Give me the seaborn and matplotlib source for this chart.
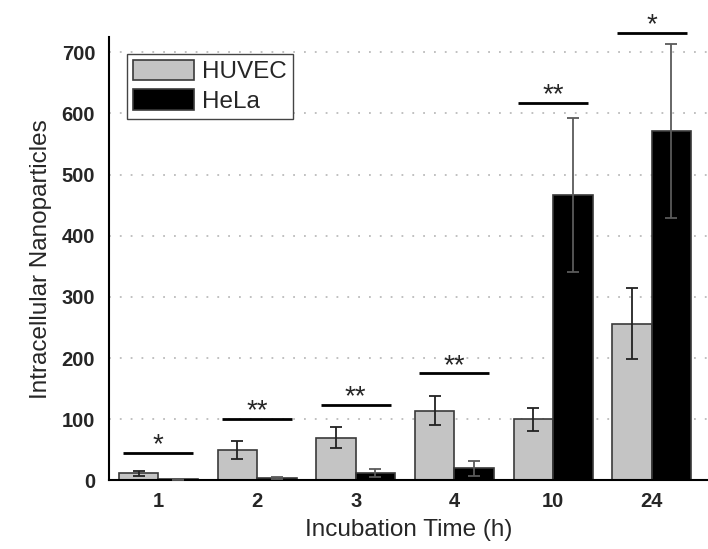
import pandas as pd
import matplotlib
matplotlib.use("Agg")
import matplotlib.pyplot as plt
import seaborn as sns

# Data
times = ['1', '2', '3', '4', '10', '24']
huvec_mean = [12, 50, 70, 114, 100, 256]
huvec_err = [4, 15, 17, 24, 19, 58]
hela_mean = [2, 4, 12, 20, 466, 571]
hela_err = [1, 1, 6, 12, 126, 142]
sig_labels = ['*', '**', '**', '**', '**', '*']
sig_heights = [45, 100, 123, 175, 617, 732]

df = pd.DataFrame({
    'Time': times * 2,
    'Cell': ['HUVEC'] * len(times) + ['HeLa'] * len(times),
    'Value': huvec_mean + hela_mean,
})

sns.set_style('white')
plt.rcParams['font.family'] = ['Liberation Sans', 'DejaVu Sans']

fig = plt.figure(figsize=(7.08, 5.49), dpi=100)
ax = fig.add_axes([0.154, 0.1248, 0.846, 0.808])

sns.barplot(data=df, x='Time', y='Value', hue='Cell', order=times,
            hue_order=['HUVEC', 'HeLa'],
            palette={'HUVEC': '#c4c4c4', 'HeLa': '#000000'},
            edgecolor='#3a3a3a', linewidth=1.2, width=0.8,
            errorbar=None, ax=ax)

# Error bars at the bar centres
for cont, errs, col in zip(ax.containers, [huvec_err, hela_err], ['#222222', '#5a5a5a']):
    xs = [p.get_x() + p.get_width() / 2 for p in cont.patches]
    ys = [p.get_height() for p in cont.patches]
    ax.errorbar(xs, ys, yerr=errs, fmt='none', ecolor=col, elinewidth=1.3,
                capsize=4, capthick=1.3, zorder=5)

# Significance markers
for i, (lab, h) in enumerate(zip(sig_labels, sig_heights)):
    ax.plot([i - 0.355, i + 0.355], [h, h], color='black', lw=2,
            clip_on=False, solid_capstyle='butt')
    ax.annotate(lab, (i, h), xytext=(0, 0.5), textcoords='offset points',
                ha='center', va='baseline', fontsize=20, annotation_clip=False)

ax.set_xlim(-0.5, 5.57)
ax.set_ylim(0, 725)
ax.set_yticks(range(0, 701, 100))
ax.yaxis.grid(True, color='#bbbbbb', linestyle=(0, (1, 5)), lw=1.3)
ax.set_axisbelow(True)

ax.set_xticks(range(len(times)))
ax.set_xticklabels(times, fontweight='bold', fontsize=14.5)
ax.set_xticks([i - 0.5 for i in range(len(times) + 1)], minor=True)
ax.tick_params(axis='x', which='major', length=0, pad=8)
ax.tick_params(axis='x', which='minor', length=5, width=1.5, direction='out',
               color='black')
ax.tick_params(axis='y', length=7, width=1.5, direction='out', pad=3,
               color='black', labelsize=14.5)
for t in ax.get_yticklabels():
    t.set_fontweight('bold')

for s in ['top', 'right']:
    ax.spines[s].set_visible(False)
for s in ['left', 'bottom']:
    ax.spines[s].set_color('black')
    ax.spines[s].set_linewidth(1.5)

ax.set_xlabel('Incubation Time (h)', fontsize=17.5, labelpad=6)
ax.set_ylabel('Intracellular Nanoparticles', fontsize=17.5, labelpad=7)

handles, labels = ax.get_legend_handles_labels()
leg = ax.legend(handles, labels, loc='upper left', bbox_to_anchor=(0.03, 0.962),
                borderaxespad=0, fontsize=17.5, frameon=True, fancybox=False,
                edgecolor='#444444', framealpha=1, handlelength=2.5,
                handleheight=0.9, handletextpad=0.35, labelspacing=0.25,
                borderpad=0.25)
leg.get_frame().set_linewidth(1.0)

plt.savefig('out.png', dpi=100)
plt.close()
